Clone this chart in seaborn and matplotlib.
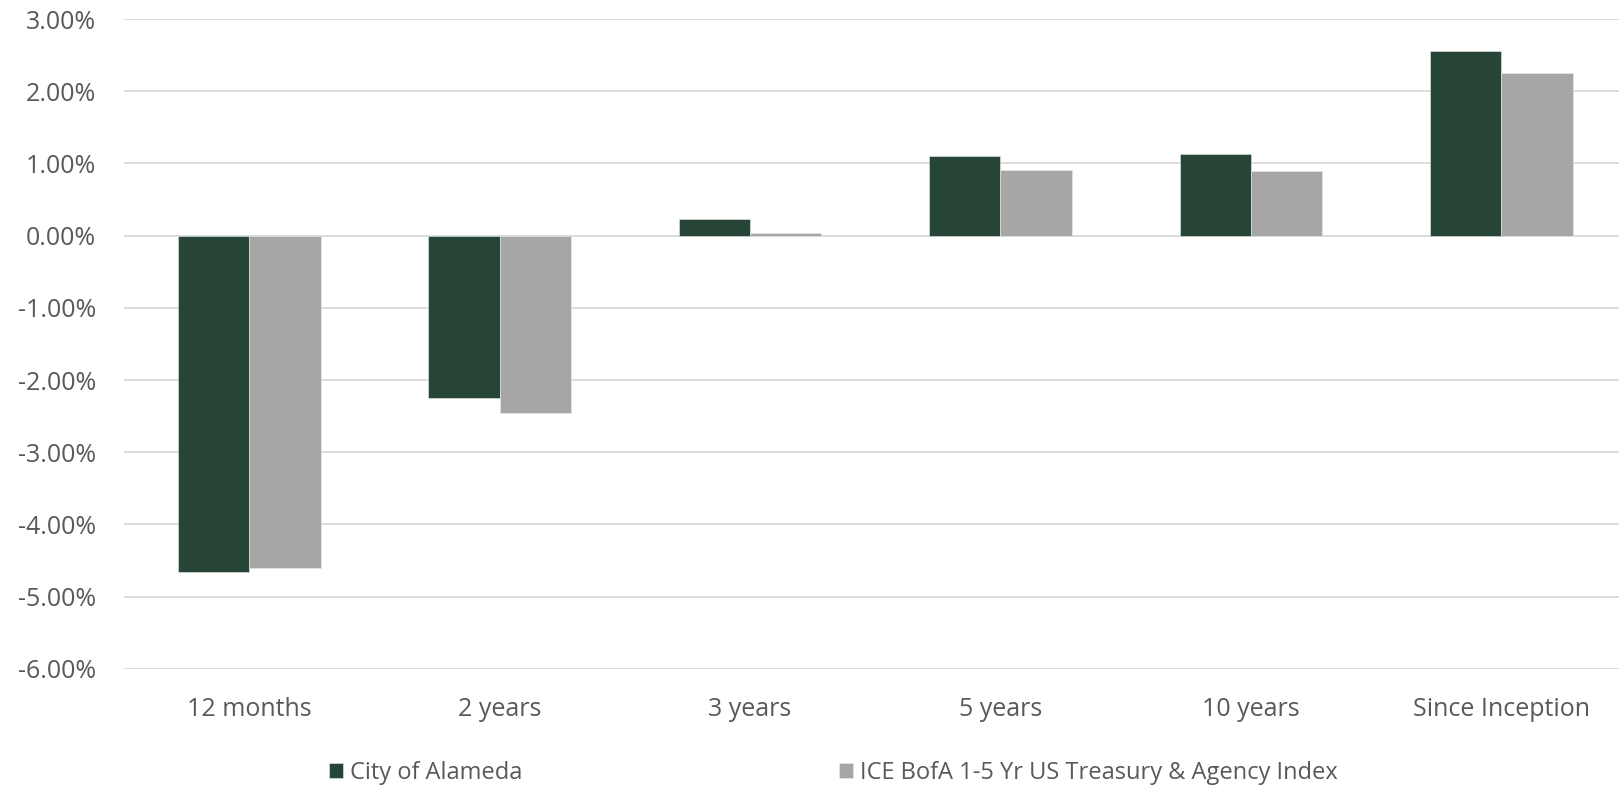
import matplotlib
matplotlib.use('Agg')
import matplotlib.pyplot as plt
import seaborn as sns
import pandas as pd
from matplotlib.ticker import FuncFormatter

periods = ['12 months', '2 years', '3 years', '5 years', '10 years', 'Since Inception']
city = [-4.66, -2.25, 0.23, 1.10, 1.13, 2.56]
index_ret = [-4.60, -2.46, 0.04, 0.91, 0.89, 2.25]
series_names = ['City of Alameda', 'ICE BofA 1-5 Yr US Treasury & Agency Index']

df = pd.DataFrame({
    'Period': periods * 2,
    'Return': city + index_ret,
    'Series': [series_names[0]] * len(periods) + [series_names[1]] * len(periods),
})

sns.set_style('white')
plt.rcParams['font.family'] = ['Open Sans', 'DejaVu Sans']

fig = plt.figure(figsize=(16.19, 7.86), dpi=100)
ax = fig.add_axes([0.0766, 0.149, 0.9234, 0.8268])

sns.barplot(data=df, x='Period', y='Return', hue='Series', order=periods,
            hue_order=series_names, palette=['#214A37', '#A6A6A6'],
            width=0.57, gap=0, edgecolor='#E8EDE9', linewidth=0.4, ax=ax)

ax.set_xlim(-0.5, 5.47)
ax.set_ylim(-6, 3)
ax.set_yticks(range(-6, 4))
ax.yaxis.set_major_formatter(FuncFormatter(lambda v, p: f'{v:.2f}%'))
ax.grid(axis='y', color='#D9D9D9', linewidth=1.3)
ax.set_axisbelow(True)
for s in ax.spines.values():
    s.set_visible(False)
ax.tick_params(axis='both', length=0, labelsize=18, labelcolor='#595959')
ax.tick_params(axis='x', pad=20)
ax.tick_params(axis='y', pad=20)
ax.set_xlabel('')
ax.set_ylabel('')

handles, labels = ax.get_legend_handles_labels()
ax.get_legend().remove()
fig.legend(handles, labels, loc='center left', bbox_to_anchor=(0.190, 0.017),
           ncol=2, frameon=False, fontsize=17, handlelength=0.6, handleheight=0.6,
           handletextpad=0.3, columnspacing=13.4, labelcolor='#595959')

plt.savefig('out.png', dpi=100)
